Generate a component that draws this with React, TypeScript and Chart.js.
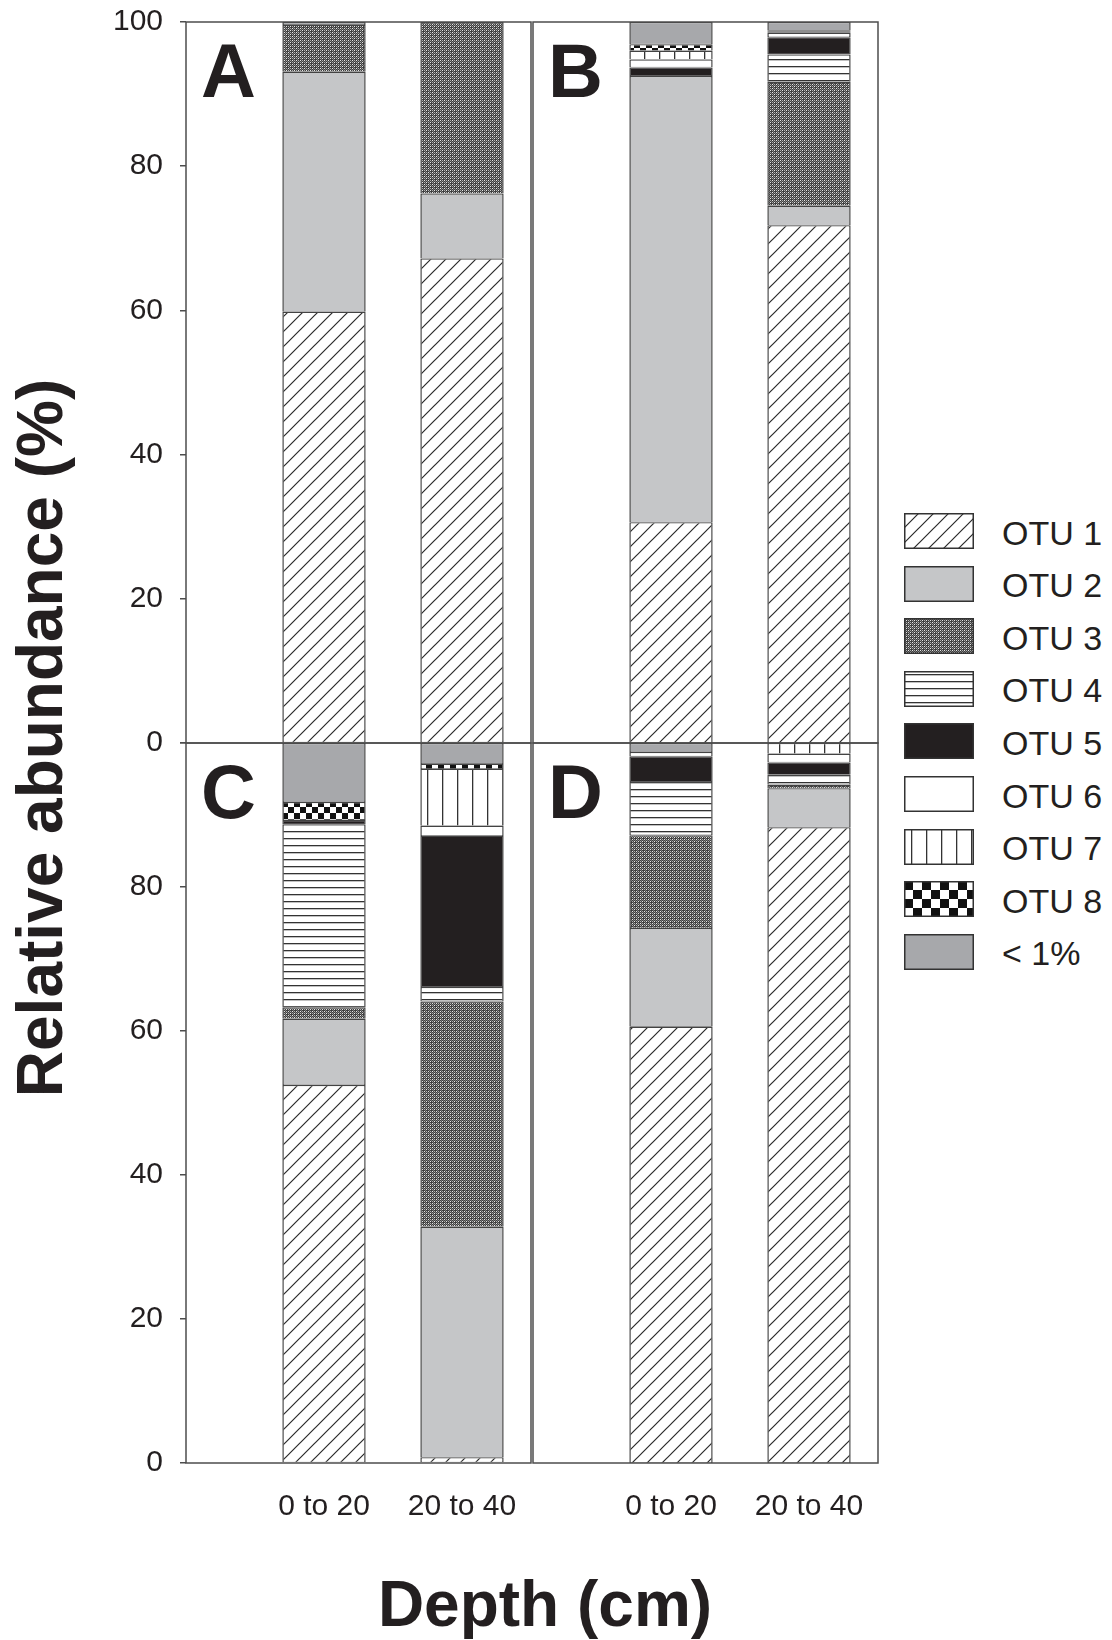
import React, { useEffect, useRef } from "react";
import { Chart, registerables } from "chart.js";

Chart.register(...registerables);

// ---------------- data ----------------
const DEPTHS = ["0 to 20", "20 to 40"];
const SERIES = ["OTU 1", "OTU 2", "OTU 3", "OTU 4", "OTU 5", "OTU 6", "OTU 7", "OTU 8", "< 1%"];
const Y_TICKS = [0, 20, 40, 60, 80, 100];
const PANEL_LETTERS = ["A", "B", "C", "D"];

// rows follow SERIES, columns follow DEPTHS (relative abundance, %)
const PANEL_A = [
  [59.8, 67.2],
  [33.3, 9.0],
  [6.5, 23.8],
  [0, 0],
  [0, 0],
  [0, 0],
  [0, 0],
  [0, 0],
  [0.4, 0],
];
const PANEL_B = [
  [30.6, 71.8],
  [61.9, 2.7],
  [0, 17.2],
  [0, 3.8],
  [1.2, 2.4],
  [1.1, 0.6],
  [1.2, 0.15],
  [0.9, 0.15],
  [3.1, 1.2],
];
const PANEL_C = [
  [52.5, 0.8],
  [9.2, 32.0],
  [1.6, 31.3],
  [25.4, 2.0],
  [0.6, 21.0],
  [0, 1.4],
  [0, 7.9],
  [2.5, 0.7],
  [8.2, 2.9],
];
const PANEL_D = [
  [60.6, 88.3],
  [13.7, 5.4],
  [12.9, 0.5],
  [7.4, 1.4],
  [3.55, 1.7],
  [0.6, 1.2],
  [0, 1.5],
  [0, 0],
  [1.25, 0],
];

// ---------------- styling ----------------
const FONT = '"Liberation Sans", Arial, Helvetica, sans-serif';
const INK = "#231f20";
const EDGE = "#434343";
const FRAME = "#4d4d4d";
const FILL_KINDS = ["diag", "#c5c6c8", "mesh", "hlines", "#231f20", "#ffffff", "vlines", "checker", "#a7a8ab"];

// x positions of the two depth classes on a 0..5 axis
const X_MIN = 0;
const X_MAX = 5;
const DEPTH_POS = [2, 4];

function makeFill(kind: string, checkerCell: number): string | CanvasPattern {
  if (kind.startsWith("#")) return kind;
  const c = document.createElement("canvas");
  const g = c.getContext("2d") as CanvasRenderingContext2D;
  if (kind === "diag") {
    const s = 15;
    c.width = s;
    c.height = s;
    g.fillStyle = "#fff";
    g.fillRect(0, 0, s, s);
    g.strokeStyle = "#2a2a2a";
    g.lineWidth = 1.2;
    g.beginPath();
    g.moveTo(-2, s + 2);
    g.lineTo(s + 2, -2);
    g.moveTo(-2, 2);
    g.lineTo(2, -2);
    g.moveTo(s - 2, s + 2);
    g.lineTo(s + 2, s - 2);
    g.stroke();
  } else if (kind === "hlines") {
    c.width = 8;
    c.height = 7;
    g.fillStyle = "#fff";
    g.fillRect(0, 0, 8, 7);
    g.fillStyle = "#333";
    g.fillRect(0, 3, 8, 1.3);
  } else if (kind === "vlines") {
    c.width = 15;
    c.height = 8;
    g.fillStyle = "#fff";
    g.fillRect(0, 0, 15, 8);
    g.fillStyle = "#333";
    g.fillRect(7, 0, 1.3, 8);
  } else if (kind === "checker") {
    const s = checkerCell;
    c.width = 2 * s;
    c.height = 2 * s;
    g.fillStyle = "#fff";
    g.fillRect(0, 0, 2 * s, 2 * s);
    g.fillStyle = "#111";
    g.fillRect(0, 0, s, s);
    g.fillRect(s, s, s, s);
  } else if (kind === "mesh") {
    c.width = 4;
    c.height = 4;
    g.fillStyle = "#3f3f3f";
    g.fillRect(0, 0, 4, 4);
    g.fillStyle = "#e6e6e6";
    g.fillRect(0, 0, 1, 1);
    g.fillRect(2, 2, 1, 1);
    g.fillStyle = "#b0b0b0";
    g.fillRect(0, 2, 1, 1);
    g.fillRect(2, 0, 1, 1);
    g.fillStyle = "#7a7a7a";
    g.fillRect(1, 3, 1, 1);
    g.fillRect(3, 1, 1, 1);
    g.fillRect(1, 1, 1, 1);
  }
  const p = g.createPattern(c, "repeat");
  return p || "#999";
}

const framePlugin = {
  id: "frame",
  afterDatasetsDraw(chart: any) {
    const { ctx, chartArea: a } = chart;
    ctx.save();
    ctx.strokeStyle = FRAME;
    ctx.lineWidth = 1.5;
    ctx.strokeRect(a.left, a.top, a.right - a.left, a.bottom - a.top);
    ctx.restore();
  },
};

const letterPlugin = {
  id: "panelLetter",
  afterDraw(chart: any, _args: any, opts: any) {
    const { ctx, chartArea: a } = chart;
    ctx.save();
    ctx.font = `bold 76px ${FONT}`;
    ctx.fillStyle = INK;
    ctx.textBaseline = "alphabetic";
    ctx.textAlign = "left";
    ctx.fillText(opts.text, a.left + 15, a.top + 75);
    ctx.restore();
  },
};

type PanelSpec = {
  data: number[][];
  letter: string;
  showY: boolean;
  showX: boolean;
  hideTopLabel: boolean;
  padding: { top: number; right: number; bottom: number; left: number };
};

function zeroPadding(scale: any) {
  scale.paddingTop = 0;
  scale.paddingBottom = 0;
  scale.paddingLeft = 0;
  scale.paddingRight = 0;
}

function makeConfig(spec: PanelSpec): any {
  const fills = FILL_KINDS.map((k) => makeFill(k, 6));
  return {
    type: "bar",
    data: {
      datasets: SERIES.map((name, s) => ({
        label: name,
        stack: "otu",
        data: DEPTHS.map((_, i) => ({ x: DEPTH_POS[i], y: spec.data[s][i] > 0 ? spec.data[s][i] : null })),
        backgroundColor: fills[s],
        borderColor: EDGE,
        borderWidth: { top: 1.2, right: 1.5, bottom: 0.6, left: 1.5 },
        borderSkipped: false,
        categoryPercentage: 1,
        barPercentage: 0.604,
      })),
    },
    options: {
      responsive: false,
      animation: false,
      devicePixelRatio: 1,
      layout: { padding: spec.padding },
      plugins: {
        legend: { display: false },
        tooltip: { enabled: false },
        panelLetter: { text: spec.letter },
      },
      scales: {
        x: {
          type: "linear",
          min: X_MIN,
          max: X_MAX,
          offset: false,
          display: spec.showX,
          afterBuildTicks: (scale: any) => {
            scale.ticks = DEPTH_POS.map((v) => ({ value: v }));
          },
          afterFit: (scale: any) => {
            if (spec.showX) scale.height = 77;
            zeroPadding(scale);
          },
          grid: { display: false, drawTicks: false },
          border: { display: false },
          ticks: {
            autoSkip: false,
            maxRotation: 0,
            padding: 26,
            color: INK,
            font: { family: FONT, size: 30 },
            callback: (v: number) => {
              const i = DEPTH_POS.indexOf(v);
              return i >= 0 ? DEPTHS[i] : "";
            },
          },
        },
        y: {
          type: "linear",
          stacked: true,
          min: 0,
          max: 100,
          display: spec.showY,
          afterBuildTicks: (scale: any) => {
            scale.ticks = Y_TICKS.map((v) => ({ value: v }));
          },
          afterFit: (scale: any) => {
            if (spec.showY) scale.width = 186;
            zeroPadding(scale);
          },
          grid: {
            display: true,
            drawOnChartArea: false,
            drawTicks: true,
            tickLength: 6,
            color: FRAME,
            lineWidth: 1.5,
          },
          border: { display: false },
          ticks: {
            padding: 17,
            color: INK,
            font: { family: FONT, size: 30 },
            callback: (v: number) => (spec.hideTopLabel && v === 100 ? "" : String(v)),
          },
        },
      },
    },
    plugins: [framePlugin, letterPlugin],
  };
}

const PANEL_BOXES = [
  { left: 0, top: 0, width: 532, height: 763 },
  { left: 532, top: 0, width: 348, height: 763 },
  { left: 0, top: 723, width: 532, height: 817 },
  { left: 532, top: 723, width: 348, height: 817 },
];

const PANEL_SPECS: PanelSpec[] = [
  { data: PANEL_A, letter: PANEL_LETTERS[0], showY: true, showX: false, hideTopLabel: false, padding: { top: 22, right: 1, bottom: 20, left: 0 } },
  { data: PANEL_B, letter: PANEL_LETTERS[1], showY: false, showX: false, hideTopLabel: false, padding: { top: 22, right: 2, bottom: 20, left: 1 } },
  { data: PANEL_C, letter: PANEL_LETTERS[2], showY: true, showX: true, hideTopLabel: true, padding: { top: 20, right: 1, bottom: 0, left: 0 } },
  { data: PANEL_D, letter: PANEL_LETTERS[3], showY: false, showX: true, hideTopLabel: false, padding: { top: 20, right: 2, bottom: 0, left: 1 } },
];

const LEGEND_LEFT = 904;
const LEGEND_TOP = 513;
const LEGEND_STEP = 52.6;
const SWATCH_W = 70;
const SWATCH_H = 36;

export default function App() {
  const chartRefs = [
    useRef<HTMLCanvasElement>(null),
    useRef<HTMLCanvasElement>(null),
    useRef<HTMLCanvasElement>(null),
    useRef<HTMLCanvasElement>(null),
  ];
  const swatchRefs = useRef<(HTMLCanvasElement | null)[]>([]);

  useEffect(() => {
    const charts = PANEL_SPECS.map((spec, i) => new Chart(chartRefs[i].current as HTMLCanvasElement, makeConfig(spec)));
    FILL_KINDS.forEach((kind, i) => {
      const cv = swatchRefs.current[i];
      if (!cv) return;
      const g = cv.getContext("2d") as CanvasRenderingContext2D;
      g.clearRect(0, 0, SWATCH_W, SWATCH_H);
      g.fillStyle = makeFill(kind, 9) as any;
      g.fillRect(0, 0, SWATCH_W, SWATCH_H);
      g.strokeStyle = "#333";
      g.lineWidth = 1.5;
      g.strokeRect(0.75, 0.75, SWATCH_W - 1.5, SWATCH_H - 1.5);
    });
    return () => charts.forEach((c) => c.destroy());
  }, []);

  return (
    <div
      style={{
        position: "absolute",
        left: 0,
        top: 0,
        width: 1112,
        height: 1640,
        background: "#fff",
        fontFamily: FONT,
        color: INK,
        overflow: "hidden",
      }}
    >
      {PANEL_BOXES.map((b, i) => (
        <div key={i} style={{ position: "absolute", left: b.left, top: b.top, width: b.width, height: b.height }}>
          <canvas ref={chartRefs[i]} width={b.width} height={b.height} style={{ display: "block" }} />
        </div>
      ))}

      <div
        style={{
          position: "absolute",
          left: 39.8 - 400,
          top: 737.5 - 32,
          width: 800,
          height: 64,
          lineHeight: "64px",
          fontSize: 64,
          fontWeight: "bold",
          textAlign: "center",
          transform: "rotate(-90deg)",
          whiteSpace: "nowrap",
        }}
      >
        Relative abundance (%)
      </div>

      <div
        style={{
          position: "absolute",
          left: 545 - 300,
          top: 1572,
          width: 600,
          height: 64,
          lineHeight: "64px",
          fontSize: 64,
          fontWeight: "bold",
          textAlign: "center",
          whiteSpace: "nowrap",
        }}
      >
        Depth (cm)
      </div>

      {SERIES.map((name, i) => (
        <div key={name}>
          <canvas
            ref={(el) => {
              swatchRefs.current[i] = el;
            }}
            width={SWATCH_W}
            height={SWATCH_H}
            style={{
              position: "absolute",
              left: LEGEND_LEFT,
              top: LEGEND_TOP + i * LEGEND_STEP,
              width: SWATCH_W,
              height: SWATCH_H,
            }}
          />
          <div
            style={{
              position: "absolute",
              left: 1002,
              top: LEGEND_TOP + i * LEGEND_STEP + 1.5,
              height: 36,
              lineHeight: "36px",
              fontSize: 34,
              whiteSpace: "nowrap",
            }}
          >
            {name}
          </div>
        </div>
      ))}
    </div>
  );
}
